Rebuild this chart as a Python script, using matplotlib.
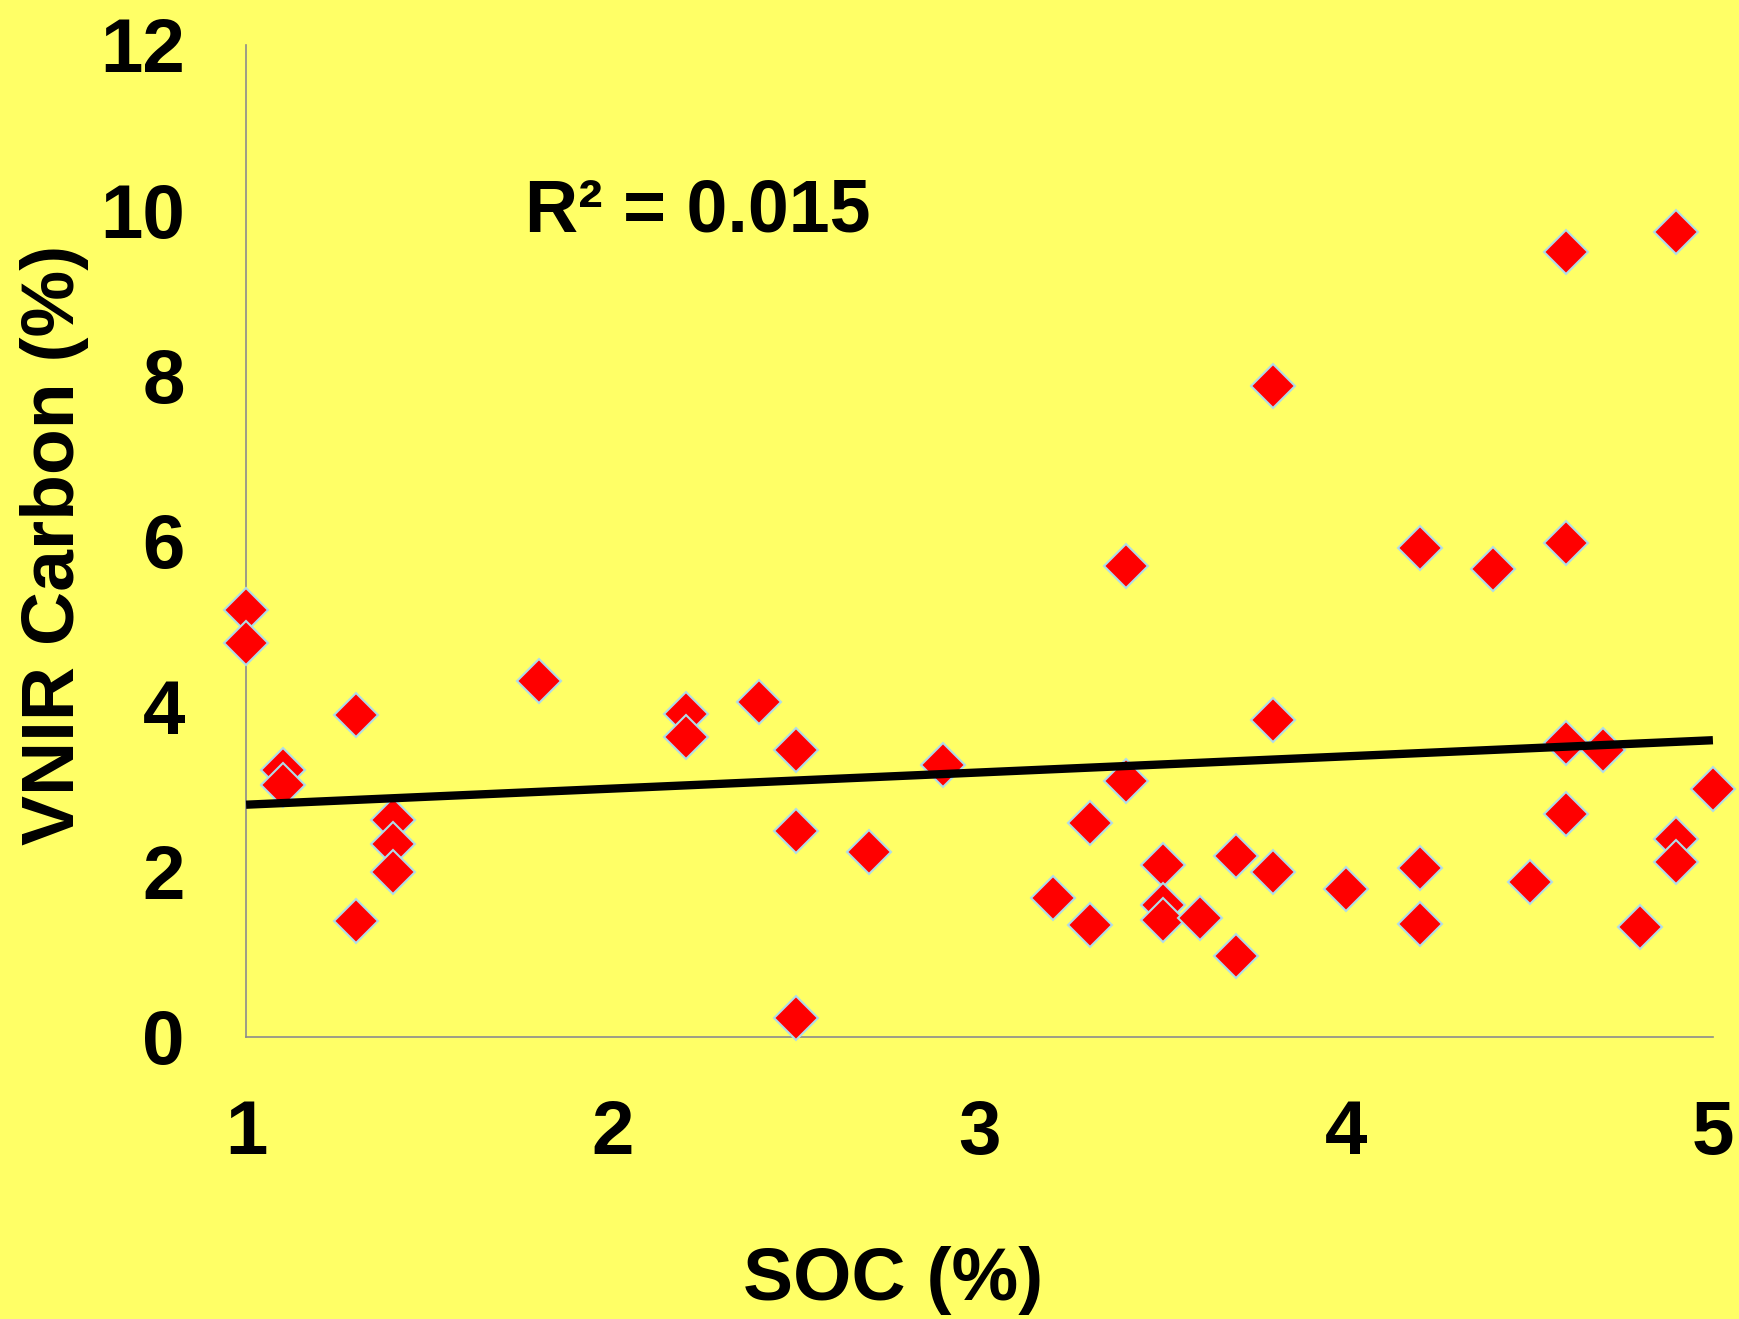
import matplotlib
matplotlib.use("Agg")
import matplotlib.pyplot as plt

soc = [1.0, 1.0, 1.1, 1.1, 1.3, 1.3, 1.4, 1.4, 1.4, 1.8,
       2.2, 2.2, 2.4, 2.5, 2.5, 2.5, 2.7, 2.9, 3.2, 3.3,
       3.3, 3.4, 3.4, 3.5, 3.5, 3.5, 3.6, 3.7, 3.7, 3.8,
       3.8, 3.8, 4.0, 4.2, 4.2, 4.2, 4.4, 4.5, 4.6, 4.6,
       4.6, 4.6, 4.7, 4.8, 4.9, 4.9, 4.9, 5.0]
vnir = [5.16, 4.76, 3.23, 3.05, 3.90, 1.40, 2.63, 2.33, 1.99, 4.31,
        3.91, 3.63, 4.05, 3.47, 2.49, 0.23, 2.24, 3.29, 1.68, 2.59,
        1.36, 5.70, 3.10, 2.08, 1.60, 1.41, 1.44, 2.19, 0.98, 7.88,
        3.83, 2.00, 1.79, 5.91, 2.04, 1.37, 5.66, 1.87, 9.49, 5.98,
        3.56, 2.70, 3.47, 1.33, 9.74, 2.39, 2.12, 3.00]

trend_x = [1.0, 5.0]
trend_y = [2.81, 3.59]

x_ticks = [1, 2, 3, 4, 5]
y_ticks = [0, 2, 4, 6, 8, 10, 12]
r2_label = "R² = 0.015"

bg = "#FFFF66"
plt.rcParams['font.family'] = ['Liberation Sans', 'DejaVu Sans']

fig = plt.figure(figsize=(17.39, 13.19), dpi=100, facecolor=bg)
ax = fig.add_axes([0.1415, 0.2138, 0.985 - 0.1415, 0.9659 - 0.2138])
ax.set_facecolor(bg)

ax.plot(soc, vnir, linestyle='none', marker='D', markersize=22,
        markerfacecolor='#FF0000', markeredgecolor='#B0DCE8',
        markeredgewidth=1.5, clip_on=False, zorder=3)
ax.plot(trend_x, trend_y, color='black', linewidth=6, zorder=4,
        solid_capstyle='butt', clip_on=False)

ax.set_xlim(1, 5)
ax.set_ylim(0, 12)
ax.set_xticks(x_ticks)
ax.set_yticks(y_ticks)
ax.set_xticklabels([str(t) for t in x_ticks])
ax.set_yticklabels([str(t) for t in y_ticks])
ax.tick_params(axis='both', length=0, labelsize=55)
ax.tick_params(axis='x', pad=45)
ax.tick_params(axis='y', pad=44)
for lab in ax.get_xticklabels() + ax.get_yticklabels():
    lab.set_fontweight('bold')

for s in ['top', 'right']:
    ax.spines[s].set_visible(False)
for s in ['left', 'bottom']:
    ax.spines[s].set_color('#8C8C8C')
    ax.spines[s].set_linewidth(1.2)

ax.set_xlabel("SOC (%)", fontsize=54, fontweight='bold')
ax.set_ylabel("VNIR Carbon (%)", fontsize=54, fontweight='bold')
ax.xaxis.set_label_coords(0.441, -0.211)
ax.yaxis.set_label_coords(-0.107, 0.4965)

ax.text(1.76, 9.74, r2_label, fontsize=53, fontweight='bold',
        ha='left', va='baseline')

fig.savefig("out.png", dpi=100, facecolor=bg)
